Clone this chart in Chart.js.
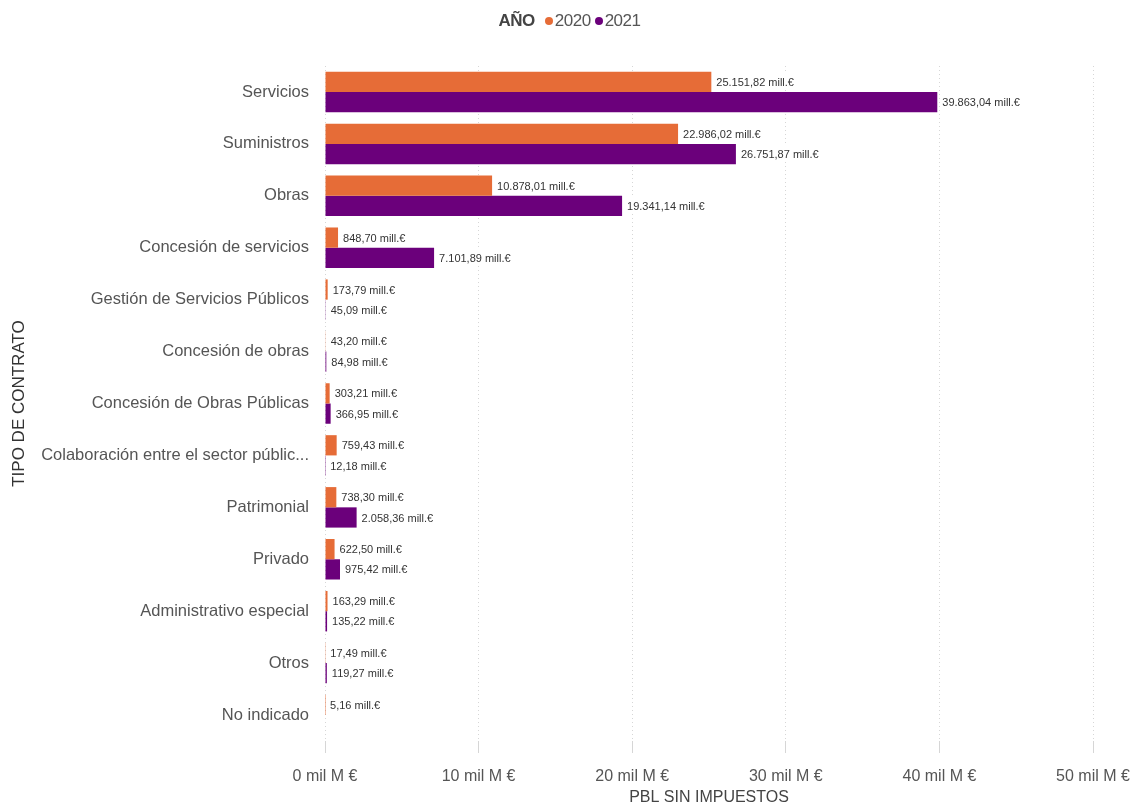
<!DOCTYPE html>
<html>
<head>
<meta charset="utf-8">
<script src="https://cdn.jsdelivr.net/npm/chart.js@4"></script>
<style>
  body { margin: 0; background: #fff; font-family: "Liberation Sans", Arial, sans-serif; }
  #wrap { position: relative; width: 1131px; height: 807px; }
  #legend { position: absolute; top: 11px; left: 4px; width: 1131px; text-align: center; font-size: 17px; color: #555; letter-spacing: -0.5px; }
  #legend b { color: #444; margin-right: 6px; }
  #legend .dot { display: inline-block; width: 8px; height: 8px; border-radius: 50%; margin-right: 2px; margin-left: 4px; vertical-align: 1px; }
</style>
</head>
<body>
<div id="wrap">
  <div id="legend"><b>AÑO</b><span class="dot" style="background:#E66C37"></span>2020<span class="dot" style="background:#6B007B"></span>2021</div>
  <canvas id="myChart" width="1131" height="807"></canvas>
</div>
<script>
var categorias = ['Servicios', 'Suministros', 'Obras', 'Concesión de servicios', 'Gestión de Servicios Públicos',
  'Concesión de obras', 'Concesión de Obras Públicas', 'Colaboración entre el sector públic...', 'Patrimonial',
  'Privado', 'Administrativo especial', 'Otros', 'No indicado'];
var valores2020 = [25151.82, 22986.02, 10878.01, 848.70, 173.79, 43.20, 303.21, 759.43, 738.30, 622.50, 163.29, 17.49, 5.16];
var valores2021 = [39863.04, 26751.87, 19341.14, 7101.89, 45.09, 84.98, 366.95, 12.18, 2058.36, 975.42, 135.22, 119.27, null];
var ticksX = [0, 10000, 20000, 30000, 40000, 50000];

var FUENTE = '"Liberation Sans", Arial, sans-serif';

function formatoMill(v) {
    var partes = v.toFixed(2).split('.');
    var entero = partes[0].replace(/\B(?=(\d{3})+(?!\d))/g, '.');
    return entero + ',' + partes[1] + ' mill.€';
}

// etiquetas de datos al final de cada barra
var etiquetas = {
    id: 'etiquetas',
    afterDatasetsDraw: function(chart) {
        var ctx = chart.ctx;
        ctx.save();
        ctx.font = '11px ' + FUENTE;
        ctx.textBaseline = 'middle';
        chart.data.datasets.forEach(function(ds, i) {
            var meta = chart.getDatasetMeta(i);
            meta.data.forEach(function(bar, j) {
                var v = ds.data[j];
                if (v === null || v === undefined) return;
                var txt = formatoMill(v);
                var x = bar.x + 5;
                var w = ctx.measureText(txt).width;
                ctx.fillStyle = '#fff';
                ctx.fillRect(x - 2, bar.y - 8, w + 4, 16);
                ctx.fillStyle = '#333';
                ctx.fillText(txt, x, bar.y + 1);
            });
        });
        ctx.restore();
    }
};

var ctx = document.getElementById('myChart').getContext('2d');
var myChart = new Chart(ctx, {
    type: 'bar',
    data: {
        labels: categorias,
        datasets: [{
            label: '2020',
            data: valores2020,
            backgroundColor: '#E66C37',
            categoryPercentage: 0.78,
            barPercentage: 1
        }, {
            label: '2021',
            data: valores2021,
            backgroundColor: '#6B007B',
            categoryPercentage: 0.78,
            barPercentage: 1
        }]
    },
    options: {
        indexAxis: 'y',
        responsive: false,
        animation: false,
        layout: { padding: { top: 66, right: 0, left: 0, bottom: 0 } },
        plugins: {
            legend: { display: false },
            tooltip: { enabled: false }
        },
        scales: {
            x: {
                min: 0,
                max: 50000,
                afterBuildTicks: function(scale) {
                    scale.ticks = ticksX.map(function(v) { return { value: v }; });
                },
                afterFit: function(scale) {
                    scale.height = 66;
                    scale.paddingRight = 38;
                },
                grid: {
                    color: '#d6d6d6',
                    lineWidth: 1,
                    tickLength: 12
                },
                border: { display: false, dash: [1, 3] },
                ticks: {
                    color: '#555',
                    padding: 14,
                    font: { size: 16, family: FUENTE },
                    callback: function(v) { return (v / 1000) + ' mil M €'; }
                },
                title: {
                    display: true,
                    text: 'PBL SIN IMPUESTOS',
                    color: '#444',
                    padding: { top: 0, bottom: 0 },
                    font: { size: 16, family: FUENTE }
                }
            },
            y: {
                afterFit: function(scale) { scale.width = 325; },
                grid: { display: false },
                border: { display: false },
                ticks: {
                    color: '#555',
                    padding: 8,
                    font: { size: 16.5, family: FUENTE }
                },
                title: {
                    display: true,
                    text: 'TIPO DE CONTRATO',
                    color: '#333',
                    padding: { top: 9, bottom: 0 },
                    font: { size: 17, family: FUENTE }
                }
            }
        }
    },
    plugins: [etiquetas]
});
</script>
</body>
</html>
